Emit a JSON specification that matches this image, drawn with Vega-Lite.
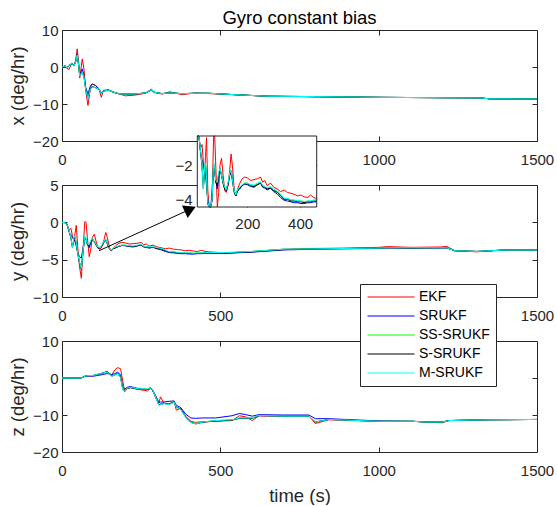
{
  "$schema": "https://vega.github.io/schema/vega-lite/v6.json",
  "background": "white",
  "padding": {"left": 8, "top": 8, "right": 0, "bottom": 0},
  "bounds": "flush",
  "spacing": 44,
  "config": {
    "font": "Liberation Sans",
    "view": {"stroke": "#262626", "strokeWidth": 1},
    "axis": {
      "grid": false, "domain": false, "ticks": true,
      "tickColor": "#262626", "tickSize": -5, "tickWidth": 1,
      "labelFont": "Liberation Sans", "labelFontSize": 15, "labelColor": "#262626",
      "labelFlush": false, "labelOverlap": false,
      "titleFont": "Liberation Sans", "titleFontSize": 18.5, "titleColor": "#262626",
      "titleFontWeight": "normal", "titlePadding": 5
    },
    "axisX": {"labelPadding": 16, "titlePadding": 8, "format": "d"},
    "axisY": {"labelPadding": 9},
    "line": {"strokeWidth": 1}
  },
  "datasets": {
    "gx": [
      {"t":0,"EKF":0,"SRUKF":0,"SS-SRUKF":0,"S-SRUKF":0,"M-SRUKF":0},
      {"t":10,"EKF":0.3,"SRUKF":0.3,"SS-SRUKF":0.3,"S-SRUKF":0.3,"M-SRUKF":0.3},
      {"t":15,"EKF":-0.3,"SRUKF":-0.3,"SS-SRUKF":-0.3,"S-SRUKF":-0.3,"M-SRUKF":-0.3},
      {"t":22,"EKF":-0.7,"SRUKF":0.3,"SS-SRUKF":0.4,"S-SRUKF":0.4,"M-SRUKF":0.4},
      {"t":31,"EKF":1.1,"SRUKF":0.9,"SS-SRUKF":1.0,"S-SRUKF":1.0,"M-SRUKF":1.0},
      {"t":38,"EKF":0.4,"SRUKF":0.3,"SS-SRUKF":0.3,"S-SRUKF":0.3,"M-SRUKF":0.3},
      {"t":43,"EKF":1.7,"SRUKF":1.5,"SS-SRUKF":1.4,"S-SRUKF":1.4,"M-SRUKF":1.4},
      {"t":48,"EKF":4.9,"SRUKF":3.6,"SS-SRUKF":3.3,"S-SRUKF":3.2,"M-SRUKF":3.2},
      {"t":53,"EKF":1.0,"SRUKF":0.3,"SS-SRUKF":0.2,"S-SRUKF":0.1,"M-SRUKF":0.2},
      {"t":56,"EKF":-3.0,"SRUKF":-2.2,"SS-SRUKF":-2.4,"S-SRUKF":-2.5,"M-SRUKF":-2.5},
      {"t":64,"EKF":2.2,"SRUKF":-0.5,"SS-SRUKF":-1.2,"S-SRUKF":-1.3,"M-SRUKF":-1.4},
      {"t":70,"EKF":-1.0,"SRUKF":-2.5,"SS-SRUKF":-2.9,"S-SRUKF":-3.0,"M-SRUKF":-3.0},
      {"t":75,"EKF":-6.5,"SRUKF":-5.5,"SS-SRUKF":-6.0,"S-SRUKF":-6.1,"M-SRUKF":-6.2},
      {"t":82,"EKF":-10.4,"SRUKF":-7.3,"SS-SRUKF":-8.3,"S-SRUKF":-8.5,"M-SRUKF":-8.6},
      {"t":90,"EKF":-5.5,"SRUKF":-5.0,"SS-SRUKF":-5.7,"S-SRUKF":-5.8,"M-SRUKF":-5.9},
      {"t":96,"EKF":-4.6,"SRUKF":-4.6,"SS-SRUKF":-5.3,"S-SRUKF":-5.4,"M-SRUKF":-5.5},
      {"t":106,"EKF":-5.0,"SRUKF":-5.0,"SS-SRUKF":-5.5,"S-SRUKF":-5.6,"M-SRUKF":-5.6},
      {"t":117,"EKF":-6.0,"SRUKF":-5.9,"SS-SRUKF":-6.0,"S-SRUKF":-6.1,"M-SRUKF":-6.0},
      {"t":124,"EKF":-8.2,"SRUKF":-7.0,"SS-SRUKF":-7.2,"S-SRUKF":-7.3,"M-SRUKF":-7.3},
      {"t":131,"EKF":-6.3,"SRUKF":-6.4,"SS-SRUKF":-6.5,"S-SRUKF":-6.5,"M-SRUKF":-6.5},
      {"t":147,"EKF":-6.2,"SRUKF":-6.2,"SS-SRUKF":-6.3,"S-SRUKF":-6.3,"M-SRUKF":-6.3},
      {"t":163,"EKF":-6.9,"SRUKF":-6.8,"SS-SRUKF":-6.8,"S-SRUKF":-6.8,"M-SRUKF":-6.8},
      {"t":178,"EKF":-7.2,"SRUKF":-7.2,"SS-SRUKF":-7.2,"S-SRUKF":-7.2,"M-SRUKF":-7.2},
      {"t":200,"EKF":-7.8,"SRUKF":-7.3,"SS-SRUKF":-7.35,"S-SRUKF":-7.3,"M-SRUKF":-7.3},
      {"t":230,"EKF":-7.6,"SRUKF":-7.3,"SS-SRUKF":-7.3,"S-SRUKF":-7.35,"M-SRUKF":-7.3},
      {"t":264,"EKF":-7.1,"SRUKF":-7.0,"SS-SRUKF":-7.0,"S-SRUKF":-7.0,"M-SRUKF":-7.0},
      {"t":283,"EKF":-6.0,"SRUKF":-6.2,"SS-SRUKF":-6.1,"S-SRUKF":-6.1,"M-SRUKF":-6.1},
      {"t":290,"EKF":-6.9,"SRUKF":-6.8,"SS-SRUKF":-6.8,"S-SRUKF":-6.8,"M-SRUKF":-6.8},
      {"t":316,"EKF":-7.3,"SRUKF":-7.2,"SS-SRUKF":-7.2,"S-SRUKF":-7.2,"M-SRUKF":-7.2},
      {"t":340,"EKF":-6.7,"SRUKF":-7.0,"SS-SRUKF":-7.0,"S-SRUKF":-7.0,"M-SRUKF":-7.0},
      {"t":380,"EKF":-7.5,"SRUKF":-7.2,"SS-SRUKF":-7.2,"S-SRUKF":-7.2,"M-SRUKF":-7.2},
      {"t":420,"EKF":-7.0,"SRUKF":-7.1,"SS-SRUKF":-7.1,"S-SRUKF":-7.1,"M-SRUKF":-7.1},
      {"t":464,"EKF":-7.2,"SRUKF":-7.1,"SS-SRUKF":-7.1,"S-SRUKF":-7.1,"M-SRUKF":-7.1},
      {"t":550,"EKF":-7.5,"SRUKF":-7.5,"SS-SRUKF":-7.5,"S-SRUKF":-7.5,"M-SRUKF":-7.5},
      {"t":650,"EKF":-7.9,"SRUKF":-7.9,"SS-SRUKF":-7.9,"S-SRUKF":-7.9,"M-SRUKF":-7.9},
      {"t":800,"EKF":-8.1,"SRUKF":-8.0,"SS-SRUKF":-8.0,"S-SRUKF":-8.0,"M-SRUKF":-8.0},
      {"t":1000,"EKF":-8.2,"SRUKF":-8.2,"SS-SRUKF":-8.2,"S-SRUKF":-8.2,"M-SRUKF":-8.2},
      {"t":1200,"EKF":-8.3,"SRUKF":-8.3,"SS-SRUKF":-8.3,"S-SRUKF":-8.3,"M-SRUKF":-8.3},
      {"t":1320,"EKF":-8.35,"SRUKF":-8.35,"SS-SRUKF":-8.35,"S-SRUKF":-8.35,"M-SRUKF":-8.35},
      {"t":1350,"EKF":-8.6,"SRUKF":-8.6,"SS-SRUKF":-8.6,"S-SRUKF":-8.6,"M-SRUKF":-8.6},
      {"t":1500,"EKF":-8.65,"SRUKF":-8.65,"SS-SRUKF":-8.65,"S-SRUKF":-8.65,"M-SRUKF":-8.65}
    ],
    "gy": [
      {"t":0,"EKF":0,"SRUKF":0,"SS-SRUKF":0,"S-SRUKF":0,"M-SRUKF":0},
      {"t":10,"EKF":0,"SRUKF":-0.05,"SS-SRUKF":-0.05,"S-SRUKF":-0.05,"M-SRUKF":-0.05},
      {"t":16,"EKF":-0.2,"SRUKF":-0.3,"SS-SRUKF":-0.3,"S-SRUKF":-0.3,"M-SRUKF":-0.3},
      {"t":22,"EKF":-1.0,"SRUKF":-1.2,"SS-SRUKF":-1.1,"S-SRUKF":-1.2,"M-SRUKF":-1.1},
      {"t":28,"EKF":-0.8,"SRUKF":-1.7,"SS-SRUKF":-2.0,"S-SRUKF":-2.1,"M-SRUKF":-2.0},
      {"t":33,"EKF":-1.8,"SRUKF":-2.0,"SS-SRUKF":-3.3,"S-SRUKF":-3.4,"M-SRUKF":-3.4},
      {"t":38,"EKF":-2.5,"SRUKF":-2.4,"SS-SRUKF":-2.2,"S-SRUKF":-2.3,"M-SRUKF":-2.0},
      {"t":41,"EKF":-1.5,"SRUKF":-2.6,"SS-SRUKF":-1.9,"S-SRUKF":-2.0,"M-SRUKF":-1.9},
      {"t":45,"EKF":-0.4,"SRUKF":-3.2,"SS-SRUKF":-2.8,"S-SRUKF":-2.9,"M-SRUKF":-2.8},
      {"t":50,"EKF":-3.5,"SRUKF":-4.0,"SS-SRUKF":-4.2,"S-SRUKF":-4.3,"M-SRUKF":-4.2},
      {"t":55,"EKF":-5.8,"SRUKF":-4.6,"SS-SRUKF":-5.2,"S-SRUKF":-5.4,"M-SRUKF":-5.3},
      {"t":61,"EKF":-7.5,"SRUKF":-4.8,"SS-SRUKF":-6.1,"S-SRUKF":-6.3,"M-SRUKF":-6.2},
      {"t":66,"EKF":-4.0,"SRUKF":-3.5,"SS-SRUKF":-4.0,"S-SRUKF":-4.1,"M-SRUKF":-4.0},
      {"t":72,"EKF":0.1,"SRUKF":-2.0,"SS-SRUKF":-1.9,"S-SRUKF":-2.0,"M-SRUKF":-1.8},
      {"t":76,"EKF":0.0,"SRUKF":-2.3,"SS-SRUKF":-2.2,"S-SRUKF":-2.3,"M-SRUKF":-2.2},
      {"t":80,"EKF":-2.0,"SRUKF":-2.9,"SS-SRUKF":-2.9,"S-SRUKF":-3.0,"M-SRUKF":-2.9},
      {"t":86,"EKF":-4.6,"SRUKF":-3.4,"SS-SRUKF":-3.1,"S-SRUKF":-3.2,"M-SRUKF":-3.0},
      {"t":91,"EKF":-3.6,"SRUKF":-2.7,"SS-SRUKF":-2.5,"S-SRUKF":-2.6,"M-SRUKF":-2.4},
      {"t":96,"EKF":-2.0,"SRUKF":-2.2,"SS-SRUKF":-2.2,"S-SRUKF":-2.3,"M-SRUKF":-2.2},
      {"t":102,"EKF":-1.6,"SRUKF":-2.6,"SS-SRUKF":-2.5,"S-SRUKF":-2.6,"M-SRUKF":-2.6},
      {"t":108,"EKF":-2.6,"SRUKF":-3.0,"SS-SRUKF":-3.0,"S-SRUKF":-3.1,"M-SRUKF":-3.0},
      {"t":114,"EKF":-3.5,"SRUKF":-3.4,"SS-SRUKF":-3.3,"S-SRUKF":-3.4,"M-SRUKF":-3.3},
      {"t":120,"EKF":-3.6,"SRUKF":-3.5,"SS-SRUKF":-3.4,"S-SRUKF":-3.5,"M-SRUKF":-3.45},
      {"t":127,"EKF":-3.2,"SRUKF":-3.1,"SS-SRUKF":-3.0,"S-SRUKF":-3.1,"M-SRUKF":-3.0},
      {"t":133,"EKF":-2.3,"SRUKF":-2.6,"SS-SRUKF":-2.5,"S-SRUKF":-2.6,"M-SRUKF":-2.5},
      {"t":138,"EKF":-1.35,"SRUKF":-2.3,"SS-SRUKF":-2.3,"S-SRUKF":-2.4,"M-SRUKF":-2.3},
      {"t":143,"EKF":-2.0,"SRUKF":-2.7,"SS-SRUKF":-2.8,"S-SRUKF":-2.9,"M-SRUKF":-2.8},
      {"t":150,"EKF":-3.4,"SRUKF":-3.5,"SS-SRUKF":-3.5,"S-SRUKF":-3.6,"M-SRUKF":-3.5},
      {"t":156,"EKF":-3.8,"SRUKF":-3.8,"SS-SRUKF":-3.7,"S-SRUKF":-3.8,"M-SRUKF":-3.75},
      {"t":163,"EKF":-3.4,"SRUKF":-3.5,"SS-SRUKF":-3.4,"S-SRUKF":-3.5,"M-SRUKF":-3.4},
      {"t":170,"EKF":-3.1,"SRUKF":-3.4,"SS-SRUKF":-3.3,"S-SRUKF":-3.4,"M-SRUKF":-3.3},
      {"t":180,"EKF":-2.8,"SRUKF":-3.2,"SS-SRUKF":-3.15,"S-SRUKF":-3.2,"M-SRUKF":-3.15},
      {"t":190,"EKF":-2.7,"SRUKF":-3.1,"SS-SRUKF":-3.05,"S-SRUKF":-3.1,"M-SRUKF":-3.05},
      {"t":200,"EKF":-2.75,"SRUKF":-3.15,"SS-SRUKF":-3.05,"S-SRUKF":-3.1,"M-SRUKF":-3.07},
      {"t":212,"EKF":-2.9,"SRUKF":-3.25,"SS-SRUKF":-3.15,"S-SRUKF":-3.2,"M-SRUKF":-3.15},
      {"t":225,"EKF":-2.85,"SRUKF":-3.3,"SS-SRUKF":-3.2,"S-SRUKF":-3.25,"M-SRUKF":-3.17},
      {"t":238,"EKF":-2.8,"SRUKF":-3.15,"SS-SRUKF":-3.1,"S-SRUKF":-3.15,"M-SRUKF":-3.05},
      {"t":250,"EKF":-2.7,"SRUKF":-3.05,"SS-SRUKF":-3.0,"S-SRUKF":-3.05,"M-SRUKF":-2.97},
      {"t":258,"EKF":-3.0,"SRUKF":-3.3,"SS-SRUKF":-3.2,"S-SRUKF":-3.25,"M-SRUKF":-3.2},
      {"t":266,"EKF":-2.9,"SRUKF":-3.35,"SS-SRUKF":-3.25,"S-SRUKF":-3.3,"M-SRUKF":-3.27},
      {"t":275,"EKF":-3.2,"SRUKF":-3.45,"SS-SRUKF":-3.35,"S-SRUKF":-3.4,"M-SRUKF":-3.3},
      {"t":288,"EKF":-3.05,"SRUKF":-3.35,"SS-SRUKF":-3.3,"S-SRUKF":-3.35,"M-SRUKF":-3.27},
      {"t":300,"EKF":-3.3,"SRUKF":-3.55,"SS-SRUKF":-3.45,"S-SRUKF":-3.5,"M-SRUKF":-3.4},
      {"t":314,"EKF":-3.4,"SRUKF":-3.7,"SS-SRUKF":-3.55,"S-SRUKF":-3.6,"M-SRUKF":-3.5},
      {"t":326,"EKF":-3.55,"SRUKF":-3.9,"SS-SRUKF":-3.75,"S-SRUKF":-3.8,"M-SRUKF":-3.7},
      {"t":339,"EKF":-3.45,"SRUKF":-4.05,"SS-SRUKF":-3.95,"S-SRUKF":-4.0,"M-SRUKF":-3.94},
      {"t":352,"EKF":-3.6,"SRUKF":-4.1,"SS-SRUKF":-3.95,"S-SRUKF":-4.0,"M-SRUKF":-3.95},
      {"t":365,"EKF":-3.65,"SRUKF":-4.15,"SS-SRUKF":-4.05,"S-SRUKF":-4.1,"M-SRUKF":-4.02},
      {"t":377,"EKF":-3.7,"SRUKF":-4.2,"SS-SRUKF":-4.05,"S-SRUKF":-4.1,"M-SRUKF":-4.04},
      {"t":390,"EKF":-3.8,"SRUKF":-4.2,"SS-SRUKF":-4.1,"S-SRUKF":-4.15,"M-SRUKF":-4.08},
      {"t":403,"EKF":-3.75,"SRUKF":-4.25,"SS-SRUKF":-4.1,"S-SRUKF":-4.15,"M-SRUKF":-4.1},
      {"t":415,"EKF":-3.85,"SRUKF":-4.25,"SS-SRUKF":-4.15,"S-SRUKF":-4.2,"M-SRUKF":-4.14},
      {"t":428,"EKF":-3.9,"SRUKF":-4.2,"SS-SRUKF":-4.1,"S-SRUKF":-4.15,"M-SRUKF":-4.1},
      {"t":440,"EKF":-3.75,"SRUKF":-4.2,"SS-SRUKF":-4.1,"S-SRUKF":-4.15,"M-SRUKF":-4.1},
      {"t":452,"EKF":-3.9,"SRUKF":-4.15,"SS-SRUKF":-4.05,"S-SRUKF":-4.1,"M-SRUKF":-4.05},
      {"t":463,"EKF":-3.95,"SRUKF":-4.15,"SS-SRUKF":-4.05,"S-SRUKF":-4.1,"M-SRUKF":-4.04},
      {"t":520,"EKF":-4.1,"SRUKF":-4.15,"SS-SRUKF":-4.05,"S-SRUKF":-4.1,"M-SRUKF":-4.05},
      {"t":600,"EKF":-3.9,"SRUKF":-4.0,"SS-SRUKF":-3.9,"S-SRUKF":-3.95,"M-SRUKF":-3.9},
      {"t":700,"EKF":-3.6,"SRUKF":-3.7,"SS-SRUKF":-3.6,"S-SRUKF":-3.65,"M-SRUKF":-3.6},
      {"t":800,"EKF":-3.5,"SRUKF":-3.6,"SS-SRUKF":-3.55,"S-SRUKF":-3.55,"M-SRUKF":-3.55},
      {"t":900,"EKF":-3.45,"SRUKF":-3.55,"SS-SRUKF":-3.5,"S-SRUKF":-3.5,"M-SRUKF":-3.5},
      {"t":1000,"EKF":-3.35,"SRUKF":-3.5,"SS-SRUKF":-3.45,"S-SRUKF":-3.45,"M-SRUKF":-3.45},
      {"t":1030,"EKF":-3.25,"SRUKF":-3.45,"SS-SRUKF":-3.4,"S-SRUKF":-3.4,"M-SRUKF":-3.4},
      {"t":1100,"EKF":-3.35,"SRUKF":-3.45,"SS-SRUKF":-3.4,"S-SRUKF":-3.45,"M-SRUKF":-3.4},
      {"t":1200,"EKF":-3.3,"SRUKF":-3.45,"SS-SRUKF":-3.4,"S-SRUKF":-3.4,"M-SRUKF":-3.4},
      {"t":1215,"EKF":-3.2,"SRUKF":-3.45,"SS-SRUKF":-3.4,"S-SRUKF":-3.4,"M-SRUKF":-3.4},
      {"t":1240,"EKF":-3.8,"SRUKF":-3.8,"SS-SRUKF":-3.8,"S-SRUKF":-3.8,"M-SRUKF":-3.8},
      {"t":1310,"EKF":-3.95,"SRUKF":-3.9,"SS-SRUKF":-3.9,"S-SRUKF":-3.9,"M-SRUKF":-3.9},
      {"t":1400,"EKF":-3.7,"SRUKF":-3.7,"SS-SRUKF":-3.7,"S-SRUKF":-3.7,"M-SRUKF":-3.7},
      {"t":1500,"EKF":-3.7,"SRUKF":-3.7,"SS-SRUKF":-3.7,"S-SRUKF":-3.7,"M-SRUKF":-3.7}
    ],
    "gz": [
      {"t":0,"EKF":0,"SRUKF":0,"SS-SRUKF":0,"S-SRUKF":0,"M-SRUKF":0},
      {"t":60,"EKF":0,"SRUKF":0,"SS-SRUKF":0,"S-SRUKF":0,"M-SRUKF":0},
      {"t":75,"EKF":0.6,"SRUKF":0.5,"SS-SRUKF":0.6,"S-SRUKF":0.6,"M-SRUKF":0.6},
      {"t":100,"EKF":0.6,"SRUKF":0.5,"SS-SRUKF":0.7,"S-SRUKF":0.7,"M-SRUKF":0.7},
      {"t":127,"EKF":1.2,"SRUKF":0.9,"SS-SRUKF":1.3,"S-SRUKF":1.3,"M-SRUKF":1.3},
      {"t":143,"EKF":1.7,"SRUKF":1.2,"SS-SRUKF":1.8,"S-SRUKF":1.7,"M-SRUKF":1.6},
      {"t":157,"EKF":0.8,"SRUKF":0.9,"SS-SRUKF":0.6,"S-SRUKF":0.5,"M-SRUKF":0.5},
      {"t":167,"EKF":2.2,"SRUKF":1.2,"SS-SRUKF":0.9,"S-SRUKF":0.8,"M-SRUKF":0.8},
      {"t":176,"EKF":2.8,"SRUKF":1.6,"SS-SRUKF":1.4,"S-SRUKF":1.3,"M-SRUKF":1.2},
      {"t":185,"EKF":2.5,"SRUKF":0.8,"SS-SRUKF":0.2,"S-SRUKF":0.1,"M-SRUKF":0.0},
      {"t":192,"EKF":-1.0,"SRUKF":-2.5,"SS-SRUKF":-3.0,"S-SRUKF":-3.1,"M-SRUKF":-3.2},
      {"t":198,"EKF":-3.4,"SRUKF":-3.0,"SS-SRUKF":-3.6,"S-SRUKF":-3.7,"M-SRUKF":-3.6},
      {"t":206,"EKF":-2.8,"SRUKF":-2.5,"SS-SRUKF":-2.8,"S-SRUKF":-2.9,"M-SRUKF":-2.8},
      {"t":216,"EKF":-2.6,"SRUKF":-2.3,"SS-SRUKF":-2.5,"S-SRUKF":-2.6,"M-SRUKF":-2.5},
      {"t":243,"EKF":-3.1,"SRUKF":-2.9,"SS-SRUKF":-3.0,"S-SRUKF":-3.1,"M-SRUKF":-3.0},
      {"t":270,"EKF":-3.5,"SRUKF":-3.1,"SS-SRUKF":-3.0,"S-SRUKF":-3.1,"M-SRUKF":-3.0},
      {"t":279,"EKF":-2.8,"SRUKF":-2.6,"SS-SRUKF":-2.7,"S-SRUKF":-2.8,"M-SRUKF":-2.7},
      {"t":286,"EKF":-3.4,"SRUKF":-3.2,"SS-SRUKF":-3.3,"S-SRUKF":-3.4,"M-SRUKF":-3.3},
      {"t":296,"EKF":-5.2,"SRUKF":-4.8,"SS-SRUKF":-5.1,"S-SRUKF":-5.2,"M-SRUKF":-5.2},
      {"t":306,"EKF":-6.8,"SRUKF":-6.6,"SS-SRUKF":-7.2,"S-SRUKF":-7.3,"M-SRUKF":-7.4},
      {"t":311,"EKF":-5.1,"SRUKF":-6.5,"SS-SRUKF":-7.0,"S-SRUKF":-7.1,"M-SRUKF":-7.2},
      {"t":322,"EKF":-6.8,"SRUKF":-6.5,"SS-SRUKF":-6.8,"S-SRUKF":-6.9,"M-SRUKF":-6.9},
      {"t":338,"EKF":-7.0,"SRUKF":-6.3,"SS-SRUKF":-7.0,"S-SRUKF":-7.1,"M-SRUKF":-7.2},
      {"t":354,"EKF":-6.3,"SRUKF":-6.2,"SS-SRUKF":-6.4,"S-SRUKF":-6.5,"M-SRUKF":-6.5},
      {"t":361,"EKF":-8.7,"SRUKF":-7.4,"SS-SRUKF":-7.8,"S-SRUKF":-7.9,"M-SRUKF":-7.9},
      {"t":375,"EKF":-8.2,"SRUKF":-8.0,"SS-SRUKF":-8.4,"S-SRUKF":-8.4,"M-SRUKF":-8.5},
      {"t":391,"EKF":-10.4,"SRUKF":-9.8,"SS-SRUKF":-10.5,"S-SRUKF":-10.6,"M-SRUKF":-10.7},
      {"t":407,"EKF":-11.7,"SRUKF":-10.8,"SS-SRUKF":-11.9,"S-SRUKF":-12.0,"M-SRUKF":-12.0},
      {"t":422,"EKF":-12.0,"SRUKF":-10.9,"SS-SRUKF":-12.3,"S-SRUKF":-12.4,"M-SRUKF":-12.4},
      {"t":443,"EKF":-11.8,"SRUKF":-10.8,"SS-SRUKF":-11.9,"S-SRUKF":-12.0,"M-SRUKF":-11.9},
      {"t":485,"EKF":-11.7,"SRUKF":-10.8,"SS-SRUKF":-11.5,"S-SRUKF":-11.6,"M-SRUKF":-11.5},
      {"t":537,"EKF":-11.5,"SRUKF":-10.2,"SS-SRUKF":-11.3,"S-SRUKF":-11.4,"M-SRUKF":-11.3},
      {"t":560,"EKF":-10.2,"SRUKF":-9.6,"SS-SRUKF":-10.8,"S-SRUKF":-10.9,"M-SRUKF":-10.8},
      {"t":580,"EKF":-10.5,"SRUKF":-9.9,"SS-SRUKF":-10.8,"S-SRUKF":-10.9,"M-SRUKF":-10.8},
      {"t":601,"EKF":-11.5,"SRUKF":-10.3,"SS-SRUKF":-10.8,"S-SRUKF":-10.9,"M-SRUKF":-10.8},
      {"t":622,"EKF":-10.2,"SRUKF":-9.9,"SS-SRUKF":-10.1,"S-SRUKF":-10.2,"M-SRUKF":-10.1},
      {"t":700,"EKF":-10.3,"SRUKF":-10.0,"SS-SRUKF":-10.3,"S-SRUKF":-10.3,"M-SRUKF":-10.3},
      {"t":780,"EKF":-10.3,"SRUKF":-10.0,"SS-SRUKF":-10.3,"S-SRUKF":-10.3,"M-SRUKF":-10.3},
      {"t":800,"EKF":-12.3,"SRUKF":-11.0,"SS-SRUKF":-11.9,"S-SRUKF":-11.9,"M-SRUKF":-11.9},
      {"t":843,"EKF":-11.3,"SRUKF":-11.0,"SS-SRUKF":-11.2,"S-SRUKF":-11.2,"M-SRUKF":-11.2},
      {"t":1000,"EKF":-11.7,"SRUKF":-11.6,"SS-SRUKF":-11.7,"S-SRUKF":-11.7,"M-SRUKF":-11.7},
      {"t":1106,"EKF":-11.7,"SRUKF":-11.7,"SS-SRUKF":-11.7,"S-SRUKF":-11.7,"M-SRUKF":-11.7},
      {"t":1150,"EKF":-11.9,"SRUKF":-11.9,"SS-SRUKF":-11.9,"S-SRUKF":-11.9,"M-SRUKF":-11.9},
      {"t":1201,"EKF":-12.1,"SRUKF":-11.9,"SS-SRUKF":-11.9,"S-SRUKF":-11.9,"M-SRUKF":-11.9},
      {"t":1222,"EKF":-11.5,"SRUKF":-11.5,"SS-SRUKF":-11.5,"S-SRUKF":-11.5,"M-SRUKF":-11.5},
      {"t":1338,"EKF":-11.3,"SRUKF":-11.3,"SS-SRUKF":-11.3,"S-SRUKF":-11.3,"M-SRUKF":-11.3},
      {"t":1500,"EKF":-11.2,"SRUKF":-11.2,"SS-SRUKF":-11.2,"S-SRUKF":-11.2,"M-SRUKF":-11.2}
    ]
  },
  "vconcat": [
    {
      "width": 475, "height": 111,
      "title": {"text": "Gyro constant bias", "fontSize": 18.5, "fontWeight": "normal", "color": "#000000", "font": "Liberation Sans", "anchor": "middle", "frame": "group", "offset": -4},
      "layer": [
        {
          "data": {"name": "gx"},
          "transform": [{"fold": ["EKF", "SRUKF", "SS-SRUKF", "S-SRUKF", "M-SRUKF"], "as": ["f", "v"]}],
          "mark": {"type": "line", "strokeWidth": 1},
          "encoding": {
            "x": {"field": "t", "type": "quantitative", "scale": {"domain": [0, 1500], "nice": false}, "axis": {"orient": "bottom", "values": [0, 500, 1000, 1500], "title": null}},
            "y": {"field": "v", "type": "quantitative", "scale": {"domain": [-20, 10], "nice": false, "zero": false}, "axis": {"orient": "left", "values": [-20, -10, 0, 10], "title": "x (deg/hr)"}},
            "color": {"field": "f", "type": "nominal", "scale": {"domain": ["EKF", "SRUKF", "SS-SRUKF", "S-SRUKF", "M-SRUKF"], "range": ["#ff0000", "#0000ff", "#00ff00", "#000000", "#00ffff"]},
              "legend": {"title": null, "orient": "none", "legendX": 298, "legendY": 254, "fillColor": "white", "strokeColor": "#262626", "padding": 6, "symbolType": "M-1.1,0H8.3", "symbolSize": 100, "symbolStrokeWidth": 1, "labelFont": "Liberation Sans", "labelFontSize": 14, "labelColor": "#000000", "labelOffset": 39, "rowPadding": 5}}
          }
        },
        {
          "data": {"values": [{}]},
          "mark": {"type": "point", "opacity": 0},
          "encoding": {
            "x": {"datum": 0, "type": "quantitative", "scale": {"domain": [0, 1500], "nice": false}, "axis": {"orient": "top", "values": [500, 1000], "labels": false, "title": null}},
            "y": {"datum": 0, "type": "quantitative", "scale": {"domain": [-20, 10], "nice": false, "zero": false}, "axis": {"orient": "right", "values": [-10, 0], "labels": false, "title": null}}
          }
        }
      ],
      "resolve": {"axis": {"x": "independent", "y": "independent"}}
    },
    {
      "width": 475, "height": 112,
      "layer": [
        {
          "layer": [
            {
              "data": {"name": "gy"},
              "transform": [{"fold": ["EKF", "SRUKF", "SS-SRUKF", "S-SRUKF", "M-SRUKF"], "as": ["f", "v"]}],
              "mark": {"type": "line", "strokeWidth": 1},
              "encoding": {
                "x": {"field": "t", "type": "quantitative", "scale": {"domain": [0, 1500], "nice": false}, "axis": {"orient": "bottom", "values": [0, 500, 1000, 1500], "title": null}},
                "y": {"field": "v", "type": "quantitative", "scale": {"domain": [-10, 5], "nice": false, "zero": false}, "axis": {"orient": "left", "values": [-10, -5, 0, 5], "title": "y (deg/hr)"}},
                "color": {"field": "f", "type": "nominal", "scale": {"domain": ["EKF", "SRUKF", "SS-SRUKF", "S-SRUKF", "M-SRUKF"], "range": ["#ff0000", "#0000ff", "#00ff00", "#000000", "#00ffff"]},
                  "legend": {"title": null, "orient": "none", "legendX": 298, "legendY": 254, "fillColor": "white", "strokeColor": "#262626", "padding": 6, "symbolType": "M-1.1,0H8.3", "symbolSize": 100, "symbolStrokeWidth": 1, "labelFont": "Liberation Sans", "labelFontSize": 14, "labelColor": "#000000", "labelOffset": 39, "rowPadding": 5}}
              }
            },
            {
              "data": {"values": [{}]},
              "mark": {"type": "rule", "color": "#000000", "strokeWidth": 1},
              "encoding": {
                "x": {"datum": 117, "type": "quantitative", "axis": null},
                "x2": {"datum": 405},
                "y": {"datum": -3.8, "type": "quantitative", "axis": null},
                "y2": {"datum": 1.76}
              }
            },
            {
              "data": {"values": [{}]},
              "mark": {"type": "point", "shape": "triangle-right", "filled": true, "color": "#000000", "opacity": 1, "size": 190, "angle": -24.5, "strokeWidth": 0},
              "encoding": {
                "x": {"datum": 405, "type": "quantitative", "axis": null},
                "y": {"datum": 1.76, "type": "quantitative", "axis": null}
              }
            },
            {
              "data": {"values": [{}]},
              "mark": {"type": "point", "opacity": 0},
              "encoding": {
                "x": {"datum": 0, "type": "quantitative", "scale": {"domain": [0, 1500], "nice": false}, "axis": {"orient": "top", "values": [500, 1000], "labels": false, "title": null}},
                "y": {"datum": 0, "type": "quantitative", "scale": {"domain": [-10, 5], "nice": false, "zero": false}, "axis": {"orient": "right", "values": [-5, 0], "labels": false, "title": null}}
              }
            }
          ],
          "resolve": {"axis": {"x": "independent", "y": "independent"}}
        },
        {
          "layer": [
            {
              "data": {"values": [{}]},
              "mark": {"type": "rect", "fill": "white", "strokeWidth": 0},
              "encoding": {
                "x": {"datum": 10, "type": "quantitative", "scale": {"domain": [10, 463], "range": [135.3, 254.7], "nice": false, "zero": false}, "axis": {"orient": "bottom", "values": [200, 400], "title": null, "offset": -90, "tickSize": -3, "labelPadding": 12}},
                "x2": {"datum": 463},
                "y": {"datum": -4.45, "type": "quantitative", "scale": {"domain": [-4.45, -0.3], "range": [22, -49], "nice": false, "zero": false, "clamp": true}, "axis": {"orient": "left", "values": [-4, -2], "title": null, "offset": -135, "tickSize": -3, "labelPadding": 8}},
                "y2": {"datum": -0.3}
              }
            },
            {
              "data": {"name": "gy"},
              "transform": [{"filter": {"field": "t", "range": [10, 463]}}, {"fold": ["EKF", "SRUKF", "SS-SRUKF", "S-SRUKF", "M-SRUKF"], "as": ["f", "v"]}],
              "mark": {"type": "line", "strokeWidth": 1},
              "encoding": {
                "x": {"field": "t", "type": "quantitative", "axis": null},
                "y": {"field": "v", "type": "quantitative", "axis": null},
                "color": {"field": "f", "type": "nominal", "scale": {"domain": ["EKF", "SRUKF", "SS-SRUKF", "S-SRUKF", "M-SRUKF"], "range": ["#ff0000", "#0000ff", "#00ff00", "#000000", "#00ffff"]},
                  "legend": {"title": null, "orient": "none", "legendX": 298, "legendY": 254, "fillColor": "white", "strokeColor": "#262626", "padding": 6, "symbolType": "M-1.1,0H8.3", "symbolSize": 100, "symbolStrokeWidth": 1, "labelFont": "Liberation Sans", "labelFontSize": 14, "labelColor": "#000000", "labelOffset": 39, "rowPadding": 5}}
              }
            },
            {
              "data": {"values": [{}]},
              "mark": {"type": "rect", "fill": null, "fillOpacity": 0, "stroke": "#262626", "strokeWidth": 1},
              "encoding": {
                "x": {"datum": 10, "type": "quantitative", "axis": null},
                "x2": {"datum": 463},
                "y": {"datum": -4.45, "type": "quantitative", "axis": null},
                "y2": {"datum": -0.3}
              }
            },
            {
              "data": {"values": [{}]},
              "mark": {"type": "point", "opacity": 0},
              "encoding": {
                "x": {"datum": 200, "type": "quantitative", "axis": {"orient": "top", "values": [200, 400], "labels": false, "title": null, "offset": 49, "tickSize": -3}},
                "y": {"datum": -2, "type": "quantitative", "axis": {"orient": "right", "values": [-4, -2], "labels": false, "title": null, "offset": -220.3, "tickSize": -3}}
              }
            }
          ],
          "resolve": {"axis": {"x": "independent", "y": "independent"}}
        }
      ],
      "resolve": {"scale": {"x": "independent", "y": "independent"}}
    },
    {
      "width": 475, "height": 111,
      "layer": [
        {
          "data": {"name": "gz"},
          "transform": [{"fold": ["EKF", "SRUKF", "SS-SRUKF", "S-SRUKF", "M-SRUKF"], "as": ["f", "v"]}],
          "mark": {"type": "line", "strokeWidth": 1},
          "encoding": {
            "x": {"field": "t", "type": "quantitative", "scale": {"domain": [0, 1500], "nice": false}, "axis": {"orient": "bottom", "values": [0, 500, 1000, 1500], "title": "time (s)"}},
            "y": {"field": "v", "type": "quantitative", "scale": {"domain": [-20, 10], "nice": false, "zero": false}, "axis": {"orient": "left", "values": [-20, -10, 0, 10], "title": "z (deg/hr)"}},
            "color": {"field": "f", "type": "nominal", "scale": {"domain": ["EKF", "SRUKF", "SS-SRUKF", "S-SRUKF", "M-SRUKF"], "range": ["#ff0000", "#0000ff", "#00ff00", "#000000", "#00ffff"]},
              "legend": {"title": null, "orient": "none", "legendX": 298, "legendY": 254, "fillColor": "white", "strokeColor": "#262626", "padding": 6, "symbolType": "M-1.1,0H8.3", "symbolSize": 100, "symbolStrokeWidth": 1, "labelFont": "Liberation Sans", "labelFontSize": 14, "labelColor": "#000000", "labelOffset": 39, "rowPadding": 5}}
          }
        },
        {
          "data": {"values": [{}]},
          "mark": {"type": "point", "opacity": 0},
          "encoding": {
            "x": {"datum": 0, "type": "quantitative", "scale": {"domain": [0, 1500], "nice": false}, "axis": {"orient": "top", "values": [500, 1000], "labels": false, "title": null}},
            "y": {"datum": 0, "type": "quantitative", "scale": {"domain": [-20, 10], "nice": false, "zero": false}, "axis": {"orient": "right", "values": [-10, 0], "labels": false, "title": null}}
          }
        }
      ],
      "resolve": {"axis": {"x": "independent", "y": "independent"}}
    }
  ]
}
